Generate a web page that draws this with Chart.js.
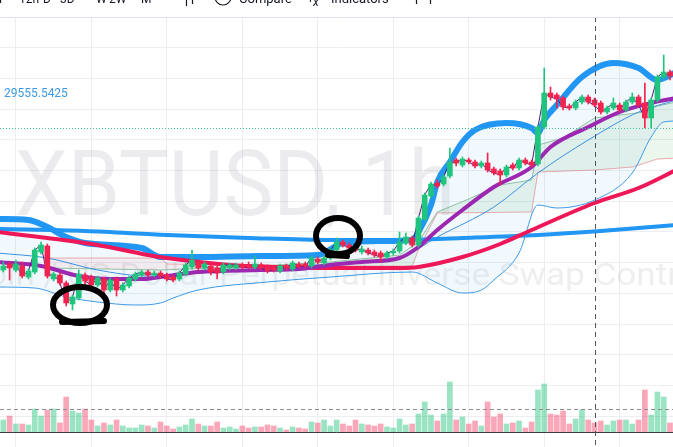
<!DOCTYPE html>
<html>
<head>
<meta charset="utf-8">
<script src="https://cdn.jsdelivr.net/npm/chart.js@4/dist/chart.umd.min.js"></script>
<style>
html, body { margin: 0; padding: 0; background: #fff; }
#wrap { width: 673px; height: 447px; }
</style>
</head>
<body>
<div id="wrap"><canvas id="miGrafico" width="673" height="447"></canvas></div>
<script>
// XBTUSD 1h candles (USD)
const candleOpen = [29460, 29472, 29460, 29468, 29446, 29456, 29496, 29508, 29442, 29450,
	29434, 29392, 29404, 29450, 29446, 29430, 29442, 29420, 29442, 29420,
	29428, 29442, 29450, 29456, 29450, 29454, 29450, 29446, 29442, 29452,
	29466, 29476, 29464, 29468, 29464, 29456, 29464, 29464, 29470, 29470,
	29466, 29470, 29466, 29464, 29458, 29468, 29462, 29472, 29472, 29468,
	29482, 29474, 29484, 29500, 29516, 29510, 29504, 29496, 29500, 29496,
	29494, 29486, 29494, 29498, 29514, 29524, 29510, 29562, 29608, 29634,
	29632, 29648, 29680, 29670, 29680, 29676, 29668, 29674, 29662, 29658,
	29650, 29670, 29664, 29680, 29676, 29672, 29746, 29814, 29810, 29804,
	29788, 29784, 29796, 29806, 29800, 29794, 29776, 29784, 29790, 29780,
	29796, 29806, 29794, 29764, 29800, 29846, 29856];
const candleClose = [29468, 29464, 29472, 29448, 29458, 29500, 29510, 29448, 29452, 29434,
	29394, 29406, 29452, 29438, 29430, 29444, 29420, 29440, 29420, 29430,
	29444, 29452, 29456, 29450, 29454, 29448, 29442, 29440, 29454, 29470,
	29480, 29464, 29472, 29456, 29454, 29470, 29470, 29470, 29466, 29466,
	29472, 29464, 29458, 29460, 29468, 29464, 29474, 29468, 29468, 29484,
	29476, 29484, 29500, 29516, 29510, 29504, 29500, 29502, 29494, 29490,
	29486, 29494, 29498, 29516, 29526, 29510, 29564, 29610, 29632, 29628,
	29646, 29676, 29674, 29682, 29676, 29668, 29674, 29660, 29654, 29650,
	29666, 29664, 29680, 29674, 29670, 29746, 29814, 29806, 29802, 29786,
	29784, 29796, 29806, 29796, 29790, 29776, 29784, 29794, 29780, 29796,
	29806, 29790, 29764, 29800, 29846, 29856, 29848];
const candleHigh = [29476, 29476, 29480, 29476, 29462, 29504, 29516, 29512, 29456, 29454,
	29438, 29410, 29460, 29454, 29450, 29448, 29446, 29444, 29446, 29434,
	29448, 29456, 29460, 29460, 29458, 29458, 29454, 29450, 29458, 29474,
	29500, 29480, 29476, 29472, 29468, 29474, 29474, 29474, 29474, 29476,
	29488, 29474, 29470, 29468, 29472, 29472, 29478, 29476, 29476, 29488,
	29486, 29488, 29504, 29524, 29520, 29514, 29508, 29508, 29504, 29500,
	29498, 29498, 29502, 29536, 29534, 29528, 29568, 29614, 29636, 29640,
	29650, 29704, 29684, 29686, 29684, 29680, 29678, 29694, 29666, 29662,
	29670, 29674, 29684, 29684, 29680, 29750, 29864, 29826, 29814, 29808,
	29792, 29800, 29810, 29810, 29804, 29798, 29788, 29804, 29794, 29800,
	29814, 29810, 29834, 29804, 29850, 29890, 29860];
const candleLow = [29456, 29440, 29456, 29444, 29442, 29452, 29492, 29444, 29438, 29430,
	29388, 29380, 29400, 29432, 29424, 29426, 29412, 29416, 29408, 29416,
	29424, 29438, 29446, 29446, 29446, 29444, 29438, 29436, 29438, 29448,
	29462, 29460, 29460, 29450, 29442, 29452, 29460, 29460, 29462, 29462,
	29462, 29460, 29454, 29456, 29454, 29460, 29458, 29464, 29464, 29464,
	29472, 29470, 29480, 29496, 29506, 29500, 29496, 29492, 29490, 29486,
	29476, 29482, 29490, 29494, 29510, 29506, 29506, 29558, 29604, 29624,
	29628, 29644, 29668, 29666, 29672, 29664, 29664, 29656, 29650, 29630,
	29646, 29660, 29660, 29670, 29666, 29668, 29742, 29800, 29784, 29780,
	29780, 29780, 29792, 29792, 29786, 29772, 29772, 29780, 29776, 29776,
	29792, 29786, 29744, 29744, 29796, 29842, 29840];
// volume, millions of contracts
const volume = [1.2, 1.6, 0.8, 0.8, 0.7, 2.3, 1.6, 2.2, 2.3, 0.9,
	3.5, 2.1, 1.9, 2.3, 1.2, 0.6, 0.9, 0.7, 1.2, 0.6,
	0.4, 0.4, 0.7, 0.6, 0.4, 1.0, 0.6, 0.3, 0.5, 0.7,
	1.3, 0.8, 0.6, 0.6, 1.0, 0.4, 0.5, 0.3, 0.6, 0.4,
	0.5, 0.5, 0.7, 0.6, 0.4, 0.2, 0.5, 0.4, 0.3, 1.0,
	0.9, 1.2, 0.6, 1.2, 0.8, 0.6, 1.2, 0.8, 0.7, 0.6,
	0.8, 0.5, 0.4, 1.3, 0.7, 0.8, 1.8, 3.0, 1.7, 1.1,
	1.8, 5.0, 1.2, 1.5, 0.8, 1.1, 0.6, 3.0, 1.5, 1.8,
	0.8, 0.9, 1.1, 0.4, 1.0, 4.2, 4.8, 1.8, 1.7, 2.1,
	0.8, 1.3, 2.2, 1.2, 0.9, 1.1, 0.7, 1.1, 1.2, 1.2,
	0.8, 1.2, 4.2, 1.7, 4.0, 3.5, 0.9];

// indicators: bar index + value
const bbUpperAt = [-1, 4, 7, 10, 13, 22, 25, 31, 41, 50, 54, 60, 65, 66, 68, 69, 71, 73, 75, 80, 84, 85, 86, 88, 92, 97, 101, 104, 107];
const bbUpper = [29562, 29560, 29546, 29526, 29514, 29504, 29486, 29486, 29488, 29490, 29514, 29518, 29520, 29536, 29590, 29636, 29676, 29716, 29740, 29754, 29744, 29734, 29760, 29790, 29846, 29874, 29864, 29840, 29856];
const bbLowerAt = [-1, 5, 10, 15, 21, 25, 27, 31, 42, 52, 65, 69, 73, 76, 78, 82, 85, 88, 94, 100, 103, 105, 107];
const bbLower = [29426, 29424, 29406, 29396, 29390, 29394, 29404, 29420, 29436, 29446, 29456, 29434, 29414, 29420, 29440, 29494, 29590, 29584, 29600, 29654, 29726, 29756, 29758];
const bbBasisAt = [-1, 7, 15, 23, 31, 41, 52, 63, 69, 78, 85, 93, 101, 107];
const bbBasis = [29494, 29484, 29460, 29448, 29454, 29462, 29472, 29484, 29526, 29586, 29654, 29720, 29776, 29800];
const emaLongAt = [-1, 13, 26, 39, 52, 63, 73, 85, 95, 107];
const emaLong = [29542, 29538, 29530, 29524, 29520, 29520, 29524, 29530, 29538, 29550];
const emaRedAt = [-1, 7, 15, 23, 26, 36, 44, 51, 63, 66, 73, 79, 84, 94, 101, 107];
const emaRed = [29536, 29524, 29510, 29490, 29484, 29470, 29466, 29464, 29464, 29466, 29486, 29512, 29540, 29594, 29624, 29660];
const emaPurpleAt = [-1, 6, 12, 17, 22, 26, 31, 41, 47, 52, 57, 63, 66, 69, 73, 78, 84, 87, 93, 98, 103, 107];
const emaPurple = [29476, 29468, 29448, 29442, 29442, 29448, 29456, 29460, 29462, 29470, 29476, 29484, 29506, 29540, 29580, 29626, 29666, 29706, 29746, 29776, 29794, 29804];
const spanAAt = [7, 25, 41, 52, 63, 66, 69, 74, 79, 84, 85, 89, 94, 102, 104, 107];
const spanA = [29464, 29460, 29468, 29476, 29490, 29516, 29576, 29602, 29630, 29640, 29710, 29724, 29764, 29776, 29788, 29796];
const spanBAt = [7, 25, 26, 52, 65, 66, 69, 84, 85, 94, 100, 104, 107];
const spanB = [29484, 29484, 29472, 29468, 29468, 29500, 29574, 29576, 29656, 29660, 29666, 29682, 29684];

const markerPrice = 29744;
const labelText = "29555.5425";
const volumeLine = 2.3;
const crosshairBar = 94;

const upColor = "#1fc47d";
const downColor = "#f2234f";
const idx = candleOpen.map((_, i) => i);
const isUp = idx.map((i) => candleClose[i] >= candleOpen[i]);

function pts(xs, ys) {
	return xs.map((x, i) => ({ x: x, y: ys[i] }));
}

function lineSet(xs, ys, color, width, order, extra) {
	return Object.assign({
		type: "line",
		data: pts(xs, ys),
		borderColor: color,
		borderWidth: width,
		pointRadius: 0,
		cubicInterpolationMode: "monotone",
		fill: false,
		order: order,
	}, extra || {});
}

const overlay = {
	id: "overlay",
	beforeDatasetsDraw(chart) {
		const ctx = chart.ctx;
		ctx.save();
		ctx.fillStyle = "rgba(120,123,134,0.14)";
		ctx.font = "90px Roboto";
		let t = "XBTUSD, 1h";
		let w = ctx.measureText(t).width;
		ctx.translate(15, 215);
		ctx.scale(440 / w, 1);
		ctx.fillText(t, 0, 0);
		ctx.restore();

		ctx.save();
		ctx.fillStyle = "rgba(120,123,134,0.13)";
		ctx.font = "32px Roboto";
		let sub = "Bitcoin / US Dollar Perpetual Inverse Swap Contract";
		let k = 113 / ctx.measureText("Inverse").width;
		let pre = ctx.measureText("Bitcoin / US Dollar Perpetual ").width * k;
		ctx.translate(377 - pre, 285);
		ctx.scale(k, 1);
		ctx.fillText(sub, 0, 0);
		ctx.restore();
	},
	afterDatasetsDraw(chart) {
		const ctx = chart.ctx;
		const { x, y, v } = chart.scales;
		ctx.save();
		// teal dotted price line
		let py = Math.round(y.getPixelForValue(markerPrice)) + 0.5;
		ctx.strokeStyle = "#3fbf9f";
		ctx.setLineDash([1, 2]);
		ctx.beginPath();
		ctx.moveTo(0, py);
		ctx.lineTo(673, py);
		ctx.stroke();
		// volume baseline
		ctx.setLineDash([]);
		ctx.strokeStyle = "#3a3d45";
		let vy = Math.round(v.getPixelForValue(0)) + 0.5;
		ctx.beginPath();
		ctx.moveTo(0, vy);
		ctx.lineTo(673, vy);
		ctx.stroke();
		// dashed volume level
		ctx.strokeStyle = "#8a8d94";
		ctx.setLineDash([4, 3]);
		let dy = Math.round(v.getPixelForValue(volumeLine)) + 0.5;
		ctx.beginPath();
		ctx.moveTo(0, dy);
		ctx.lineTo(673, dy);
		ctx.stroke();
		// crosshair
		ctx.strokeStyle = "#50535e";
		ctx.setLineDash([5, 4]);
		let cx = Math.round(x.getPixelForValue(crosshairBar)) + 0.5;
		ctx.beginPath();
		ctx.moveTo(cx, 17);
		ctx.lineTo(cx, 447);
		ctx.stroke();
		ctx.setLineDash([]);
		// indicator value label
		ctx.fillStyle = "#3d9ae6";
		ctx.font = "12px Roboto";
		ctx.fillText(labelText, 4, 97);
		ctx.restore();
	},
	afterDraw(chart) {
		const ctx = chart.ctx;
		ctx.save();
		// toolbar
		ctx.fillStyle = "#fff";
		ctx.fillRect(0, 0, 673, 17);
		ctx.strokeStyle = "#e0e3eb";
		ctx.beginPath();
		ctx.moveTo(0, 17.5);
		ctx.lineTo(673, 17.5);
		ctx.stroke();
		ctx.fillStyle = "#131722";
		ctx.font = "12px Roboto";
		const frames = [["F", -1], ["12h", 19], ["D", 43], ["3D", 60], ["W", 96], ["2W", 109], ["M", 141]];
		frames.forEach((it) => ctx.fillText(it[0], it[1], 3));
		ctx.font = "13px Roboto";
		const tools = [["Compare", 239], ["Indicators", 331], ["···", 466]];
		tools.forEach((it) => ctx.fillText(it[0], it[1], 3));
		ctx.font = "italic 12px Roboto";
		ctx.fillText("f", 309, 2);
		ctx.fillText("x", 313, 6);
		ctx.strokeStyle = "#131722";
		ctx.lineWidth = 1.2;
		ctx.beginPath();
		ctx.arc(223, -3, 8, 0, Math.PI * 2);
		ctx.stroke();
		ctx.beginPath();
		ctx.moveTo(186.5, -4); ctx.lineTo(186.5, 6);
		ctx.moveTo(192.5, -6); ctx.lineTo(192.5, 4);
		ctx.moveTo(416.5, -4); ctx.lineTo(416.5, 4);
		ctx.moveTo(430.5, -4); ctx.lineTo(430.5, 4);
		ctx.stroke();

		// hand-drawn marks
		ctx.strokeStyle = "#000";
		ctx.lineWidth = 6;
		ctx.lineCap = "round";
		ctx.beginPath();
		ctx.ellipse(338, 236, 22, 18, 0, 0, Math.PI * 2);
		ctx.stroke();
		ctx.beginPath();
		ctx.moveTo(328, 255);
		ctx.lineTo(347, 256);
		ctx.stroke();
		ctx.beginPath();
		ctx.ellipse(80, 305, 27, 18, 0, 0, Math.PI * 2);
		ctx.stroke();
		ctx.beginPath();
		ctx.moveTo(62, 322);
		ctx.lineTo(104, 321);
		ctx.stroke();
		ctx.restore();
	},
};

function initGrafico() {
	const ctx = document.getElementById("miGrafico");
	new Chart(ctx, {
		type: "bar",
		data: {
			datasets: [
				{
					type: "bar",
					yAxisID: "v",
					data: pts(idx, volume),
					backgroundColor: idx.map((i) => (isUp[i] ? "rgba(31,196,125,0.45)" : "rgba(242,35,79,0.4)")),
					barThickness: 5,
					grouped: false,
					order: 20,
				},
				lineSet(spanAAt, spanA, "rgba(110,170,120,0.7)", 1, 15, {
					cubicInterpolationMode: "default",
					tension: 0,
					fill: { target: 2, above: "rgba(76,175,80,0.11)", below: "rgba(244,67,54,0.08)" },
				}),
				lineSet(spanBAt, spanB, "rgba(230,120,120,0.6)", 1, 14, { cubicInterpolationMode: "default", tension: 0 }),
				lineSet(bbUpperAt, bbUpper, "#2196f3", 6, 10, {
					fill: { target: 4, above: "rgba(33,150,243,0.06)", below: "rgba(33,150,243,0.06)" },
				}),
				lineSet(bbLowerAt, bbLower, "#3d9ae6", 1, 12),
				lineSet(bbBasisAt, bbBasis, "#3d8fe0", 1, 11),
				lineSet(emaLongAt, emaLong, "#2196f3", 4, 8),
				lineSet(emaRedAt, emaRed, "#ee1757", 4, 7),
				lineSet(emaPurpleAt, emaPurple, "#9c27b0", 4, 6),
				lineSet(idx, candleClose, "#4a1d7a", 1, 5, { cubicInterpolationMode: "default", tension: 0 }),
				{
					type: "bar",
					data: idx.map((i) => ({ x: i, y: [candleLow[i], candleHigh[i]] })),
					backgroundColor: idx.map((i) => (isUp[i] ? upColor : downColor)),
					barThickness: 1,
					grouped: false,
					order: 2,
				},
				{
					type: "bar",
					data: idx.map((i) => ({ x: i, y: [candleOpen[i], candleClose[i]] })),
					backgroundColor: idx.map((i) => (isUp[i] ? upColor : downColor)),
					barThickness: 5,
					grouped: false,
					order: 1,
				},
			],
		},
		options: {
			responsive: false,
			animation: false,
			events: [],
			layout: { padding: 0 },
			plugins: { legend: { display: false }, tooltip: { enabled: false } },
			scales: {
				x: {
					type: "linear",
					min: -0.525,
					max: 106.475,
					offset: false,
					border: { display: false },
					grid: { color: "#eceef1", drawTicks: false },
					ticks: { display: false },
					afterBuildTicks: (s) => {
						s.ticks = [8, 20, 32, 44, 56, 68, 80, 92, 104].map((t) => ({ value: t }));
					},
				},
				y: {
					min: 29106,
					max: 30000,
					border: { display: false },
					grid: { color: "#eceef1", drawTicks: false },
					ticks: { display: false },
					afterBuildTicks: (s) => {
						const t = [];
						for (let k = 0; k < 14; k++) t.push({ value: 29966 - 61.4 * k });
						s.ticks = t;
					},
				},
				v: {
					display: false,
					min: -1.5,
					max: 43.2,
				},
			},
		},
		plugins: [overlay],
	});
}

initGrafico();
</script>
</body>
</html>
